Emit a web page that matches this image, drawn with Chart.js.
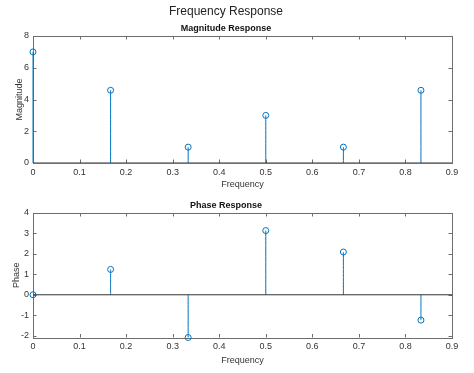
<!DOCTYPE html>
<html>
<head>
<meta charset="utf-8">
<script src="https://cdn.jsdelivr.net/npm/chart.js@4.4.1/dist/chart.umd.min.js"></script>
<style>
  body { margin: 0; background: #fff; }
  .box { position: absolute; left: 0; width: 474px; }
  #top { top: 0; height: 190px; }
  #bot { top: 190px; height: 183px; }
</style>
</head>
<body>
<div class="box" id="top"><canvas id="magChart"></canvas></div>
<div class="box" id="bot"><canvas id="phaseChart"></canvas></div>
<script>
const freq = [0, 0.1667, 0.3333, 0.5, 0.6667, 0.8333];
const magnitude = [7, 4.58, 1, 3, 1, 4.58];
const phase = [0, 1.24, -2.09, 3.14, 2.09, -1.24];

const freqTicks = [0, 0.1, 0.2, 0.3, 0.4, 0.5, 0.6, 0.7, 0.8, 0.9];
const magTicks = [0, 2, 4, 6, 8];
const phaseTicks = [-2, -1, 0, 1, 2, 3, 4];

const stemColor = '#0072BD';
const axisColor = '#6e6e6e';
const textColor = '#333333';
const fontFamily = '"Liberation Sans", Arial, sans-serif';

// box around axes with inward ticks on all four sides (matlab look)
// drawn before the datasets so the x=0 stem stays visible on the left edge
const boxPlugin = {
    id: 'boxPlugin',
    beforeDatasetsDraw(chart) {
        const ctx = chart.ctx;
        const a = chart.chartArea;
        const xs = chart.scales.x, ys = chart.scales.y;
        const tl = 3.5;
        ctx.save();
        ctx.strokeStyle = axisColor;
        ctx.lineWidth = 1;
        ctx.beginPath();
        xs.ticks.forEach(t => {
            const px = Math.round(xs.getPixelForValue(t.value)) + 0.5;
            ctx.moveTo(px, a.bottom); ctx.lineTo(px, a.bottom - tl);
            ctx.moveTo(px, a.top); ctx.lineTo(px, a.top + tl);
        });
        ys.ticks.forEach(t => {
            const py = Math.round(ys.getPixelForValue(t.value)) + 0.5;
            ctx.moveTo(a.left, py); ctx.lineTo(a.left + tl, py);
            ctx.moveTo(a.right, py); ctx.lineTo(a.right - tl, py);
        });
        ctx.stroke();
        ctx.strokeRect(Math.round(a.left) + 0.5, Math.round(a.top) + 0.5,
            Math.round(a.right - a.left), Math.round(a.bottom - a.top));
        ctx.restore();
    }
};

function stemPoints(xv, yv) {
    const pts = [];
    xv.forEach((x, i) => {
        pts.push({x: x, y: 0}, {x: x, y: yv[i]}, {x: x, y: null});
    });
    return pts;
}

function makeChart(id, values, yTicks, yMin, yMax, titles, yLabel, lay) {
    const ctx = document.getElementById(id).getContext('2d');
    return new Chart(ctx, {
        type: 'scatter',
        data: {
            datasets: [
                {
                    // baseline
                    data: [{x: 0, y: 0}, {x: 0.9, y: 0}],
                    showLine: true,
                    borderColor: '#333333',
                    borderWidth: 1,
                    pointRadius: 0
                },
                {
                    data: stemPoints(freq, values),
                    showLine: true,
                    spanGaps: false,
                    tension: 0.0001,
                    borderColor: stemColor,
                    borderWidth: 1,
                    pointRadius: 0,
                    clip: false
                },
                {
                    data: freq.map((x, i) => ({x: x, y: values[i]})),
                    showLine: false,
                    pointStyle: 'circle',
                    pointRadius: 3,
                    borderColor: stemColor,
                    backgroundColor: 'rgba(0,0,0,0)',
                    borderWidth: 1,
                    clip: false
                }
            ]
        },
        options: {
            responsive: true,
            maintainAspectRatio: false,
            animation: false,
            layout: { padding: { left: 0, right: 22, top: 0, bottom: 0 } },
            plugins: {
                legend: { display: false },
                tooltip: { enabled: false },
                title: titles.title,
                subtitle: titles.subtitle
            },
            scales: {
                x: {
                    type: 'linear',
                    min: 0, max: 0.9,
                    afterBuildTicks: s => { s.ticks = freqTicks.map(v => ({value: v})); },
                    afterFit: s => { s.height = lay.xHeight; },
                    grid: { display: false, drawTicks: false },
                    border: { display: false },
                    ticks: {
                        padding: 4,
                        color: textColor,
                        font: { family: fontFamily, size: 9 },
                        callback: v => String(v)
                    },
                    title: {
                        display: true, text: 'Frequency', color: textColor,
                        font: { family: fontFamily, size: 9 },
                        padding: { top: 0, bottom: lay.xTitlePad }
                    }
                },
                y: {
                    min: yMin, max: yMax,
                    afterBuildTicks: s => { s.ticks = yTicks.map(v => ({value: v})); },
                    afterFit: s => { s.width = 33; },
                    grid: { display: false, drawTicks: false },
                    border: { display: false },
                    ticks: {
                        padding: 4,
                        color: textColor,
                        font: { family: fontFamily, size: 9 },
                        callback: v => String(v)
                    },
                    title: {
                        display: true, text: yLabel, color: textColor,
                        font: { family: fontFamily, size: 9 },
                        padding: { top: lay.yTitlePad, bottom: 0 }
                    }
                }
            }
        },
        plugins: [boxPlugin]
    });
}

makeChart('magChart', magnitude, magTicks, 0, 8, {
    title: {
        display: true, text: 'Frequency Response', color: '#222222',
        font: { family: fontFamily, size: 12, weight: 'normal' },
        padding: { top: 4.5, bottom: 0 }
    },
    subtitle: {
        display: true, text: 'Magnitude Response', color: '#111111',
        font: { family: fontFamily, size: 9, weight: 'bold' },
        padding: { top: 4.4, bottom: 1.9 }
    }
}, 'Magnitude', { xHeight: 27, xTitlePad: 0, yTitlePad: 14 });

makeChart('phaseChart', phase, phaseTicks, -2.09, 4, {
    title: {
        display: true, text: 'Phase Response', color: '#111111',
        font: { family: fontFamily, size: 9, weight: 'bold' },
        padding: { top: 9.9, bottom: 2.3 }
    },
    subtitle: { display: false }
}, 'Phase', { xHeight: 35.5, xTitlePad: 6.9, yTitlePad: 11 });
</script>
</body>
</html>
